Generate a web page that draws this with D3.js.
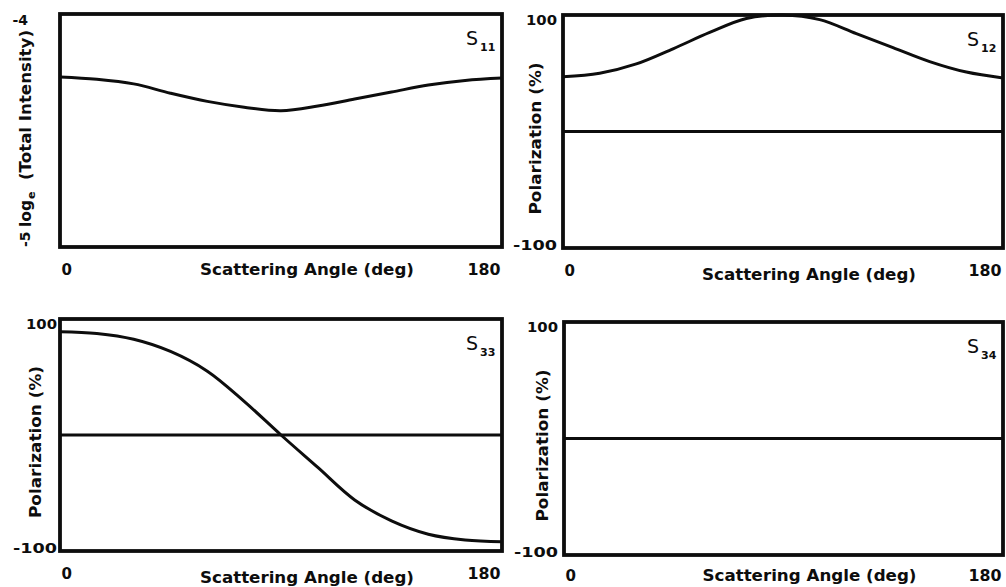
<!DOCTYPE html>
<html>
<head>
<meta charset="utf-8">
<script src="https://cdn.jsdelivr.net/npm/d3@7"></script>
<style>
  html, body { margin: 0; padding: 0; background: #fff; }
  svg { display: block; font-family: "DejaVu Sans", "Liberation Sans", Arial, sans-serif; font-weight: bold; }
</style>
</head>
<body>
<svg id="chart" width="1006" height="587"></svg>
<script>
// Scattering angle samples (deg) and Mueller matrix element curves
const angles = [0, 15, 30, 45, 60, 75, 90, 105, 120, 135, 150, 165, 180];
const s11Values = [-4.27, -4.28, -4.30, -4.34, -4.375, -4.40, -4.415, -4.395, -4.365, -4.335, -4.305, -4.285, -4.275];
const s12Values = [47, 50, 58, 71, 85, 97, 100, 96, 84, 72, 60, 51, 46];
const s33Values = [89, 87.5, 82.5, 72, 55, 29, 0, -28, -56, -74, -85.5, -90.5, -92];
const s34Values = [0, 0, 0, 0, 0, 0, 0, 0, 0, 0, 0, 0, 0];

// Axis ticks and labels
const angleTicks = [0, 180];
const intensityTicks = [-4, -5];
const polarizationTicks = [100, -100];
const xTitle = "Scattering Angle (deg)";
const polTitle = "Polarization (%)";

const svg = d3.select("#chart");
const ink = "#0d0d0d";

const panels = [
  { sub: "11", values: s11Values, domain: [-5, -4], ticks: intensityTicks, kind: "intensity",
    box: { l: 60, r: 502, t: 14, b: 247 }, xGap: 17, titleGap: 17 },
  { sub: "12", values: s12Values, domain: [-100, 100], ticks: polarizationTicks, kind: "pol",
    box: { l: 563, r: 1003, t: 15, b: 248 }, xGap: 17, titleGap: 21, tickPad: 6, titleX: 541 },
  { sub: "33", values: s33Values, domain: [-100, 100], ticks: polarizationTicks, kind: "pol",
    box: { l: 60, r: 502, t: 319, b: 551 }, xGap: 17, titleGap: 21, tickPad: 3, titleX: 41 },
  { sub: "34", values: s34Values, domain: [-100, 100], ticks: polarizationTicks, kind: "pol",
    box: { l: 564, r: 1003, t: 322, b: 555 }, xGap: 15, titleGap: 15, tickPad: 6, titleX: 548 }
];

panels.forEach(p => {
  const x = d3.scaleLinear().domain([0, 180]).range([p.box.l, p.box.r]);
  const y = d3.scaleLinear().domain(p.domain).range([p.box.b, p.box.t]);
  const g = svg.append("g");

  // zero reference line for the polarization panels
  if (p.kind === "pol") {
    g.append("line")
      .attr("x1", x(0)).attr("x2", x(180))
      .attr("y1", y(0)).attr("y2", y(0))
      .attr("stroke", ink).attr("stroke-width", 3);
  }

  // data curve
  const line = d3.line()
    .x(d => x(d[0]))
    .y(d => y(d[1]))
    .curve(d3.curveCatmullRom.alpha(0.5));
  g.append("path")
    .datum(angles.map((a, i) => [a, p.values[i]]))
    .attr("d", line)
    .attr("fill", "none")
    .attr("stroke", ink)
    .attr("stroke-width", 3)
    .attr("stroke-linejoin", "round");

  // frame
  g.append("rect")
    .attr("x", x(0)).attr("y", y(p.domain[1]))
    .attr("width", x(180) - x(0))
    .attr("height", y(p.domain[0]) - y(p.domain[1]))
    .attr("fill", "none")
    .attr("stroke", ink)
    .attr("stroke-width", 3.8);

  // x axis labels
  const xa = g.append("g")
    .attr("transform", `translate(0,${p.box.b})`)
    .call(d3.axisBottom(x).tickValues(angleTicks).tickSize(0).tickFormat(d => String(d)));
  xa.attr("font-family", null).attr("font-size", null);
  xa.select(".domain").remove();
  xa.selectAll("text")
    .attr("y", p.xGap)
    .attr("dy", "0.71em")
    .attr("font-size", 15)
    .attr("fill", ink)
    .attr("text-anchor", d => d === 0 ? "start" : "end")
    .attr("dx", d => d === 0 ? 1 : -2)
    .each(function(d) {
      const s = String(d);
      if (s.length > 1) d3.select(this).attr("textLength", s.length * 11).attr("lengthAdjust", "spacingAndGlyphs");
    });

  // x axis title
  g.append("text")
    .attr("x", (x(0) + x(180)) / 2 + 26)
    .attr("y", p.box.b + p.titleGap)
    .attr("dy", "0.71em")
    .attr("text-anchor", "middle")
    .attr("font-size", 16)
    .attr("fill", ink)
    .attr("textLength", 214)
    .attr("lengthAdjust", "spacingAndGlyphs")
    .text(xTitle);

  if (p.kind === "pol") {
    const ya = g.append("g")
      .attr("transform", `translate(${p.box.l},0)`)
      .call(d3.axisLeft(y).tickValues(p.ticks).tickSize(0).tickPadding(p.tickPad).tickFormat(d => String(d)));
    ya.attr("font-family", null).attr("font-size", null);
    ya.select(".domain").remove();
    ya.selectAll("text")
      .attr("font-size", 14)
      .attr("fill", ink)
      .attr("y", d => d > 0 ? 5 : -3)
      .attr("textLength", d => d > 0 ? 31 : 44)
      .attr("lengthAdjust", "spacingAndGlyphs");

    // rotated y title
    g.append("text")
      .attr("transform", `translate(${p.titleX},${(p.box.t + p.box.b) / 2 + 7}) rotate(-90)`)
      .attr("text-anchor", "middle")
      .attr("font-size", 15)
      .attr("fill", ink)
      .attr("textLength", 152)
      .attr("lengthAdjust", "spacingAndGlyphs")
      .text(polTitle);
  } else {
    // upper intensity tick, upright
    g.append("text")
      .attr("x", 28).attr("y", y(p.ticks[0]) + 11)
      .attr("text-anchor", "end")
      .attr("font-size", 14)
      .attr("fill", ink)
      .text(String(p.ticks[0]));
    // lower intensity tick, set along the rotated title
    g.append("text")
      .attr("transform", `translate(30,${y(p.ticks[1])}) rotate(-90)`)
      .attr("text-anchor", "start")
      .attr("font-size", 14)
      .attr("fill", ink)
      .text(String(p.ticks[1]));
    // rotated title: log_e (Total Intensity)
    const tg = g.append("g").attr("transform", "translate(31,227) rotate(-90)");
    tg.append("text").attr("x", 0).attr("y", 0)
      .attr("font-size", 15).attr("fill", ink)
      .attr("textLength", 27).attr("lengthAdjust", "spacingAndGlyphs")
      .text("log");
    tg.append("text").attr("x", 28).attr("y", 4)
      .attr("font-size", 11).attr("fill", ink)
      .text("e");
    tg.append("text").attr("x", 47).attr("y", 0)
      .attr("font-size", 15).attr("fill", ink)
      .attr("textLength", 150).attr("lengthAdjust", "spacingAndGlyphs")
      .text("(Total Intensity)");
  }

  // element label S_ij
  const lab = g.append("text")
    .attr("x", p.box.r - 36)
    .attr("y", p.box.t + 31)
    .attr("fill", ink);
  lab.append("tspan").attr("font-size", 19).attr("font-weight", "normal").text("S");
  lab.append("tspan").attr("font-size", 11).attr("dy", 6).attr("dx", 2).text(p.sub);
});
</script>
</body>
</html>
